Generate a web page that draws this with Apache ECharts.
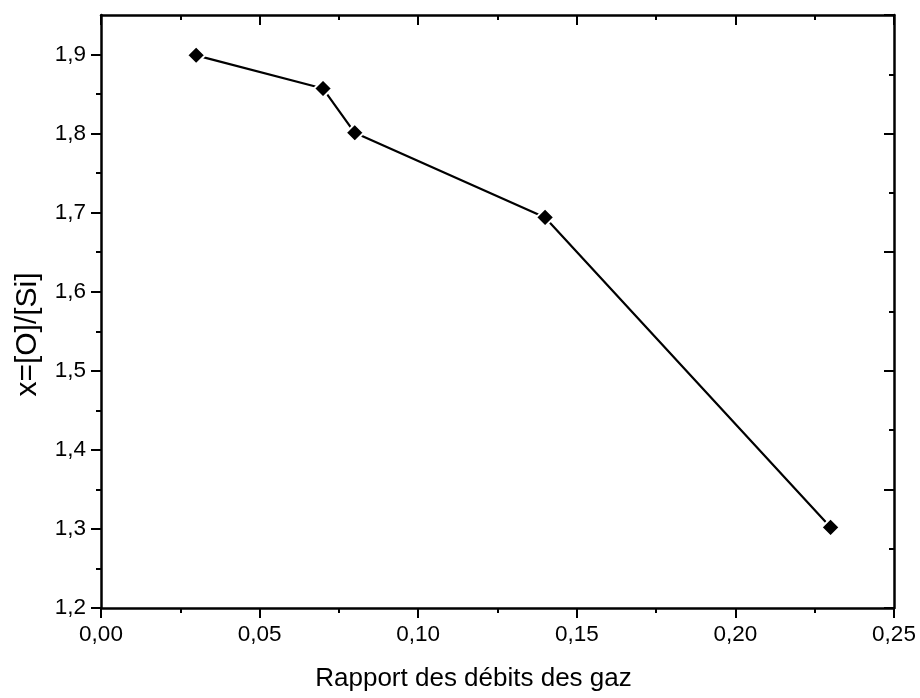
<!DOCTYPE html>
<html>
<head>
<meta charset="utf-8">
<script src="https://cdn.jsdelivr.net/npm/echarts@6/dist/echarts.min.js"></script>
<style>
  html, body { margin: 0; padding: 0; background: #fff; }
  #chart { width: 920px; height: 698px; }
</style>
</head>
<body>
<div id="chart"></div>
<script>
// Gas flow ratio vs. oxygen/silicon ratio
const flowRatio = [0.03, 0.07, 0.08, 0.14, 0.23];
const oxygenSiliconRatio = [1.899, 1.857, 1.801, 1.694, 1.302];

// Left axis ticks (labelled majors, unlabelled minors)
const yMajorTicks = [1.2, 1.3, 1.4, 1.5, 1.6, 1.7, 1.8, 1.9];
const yMinorTicks = [1.25, 1.35, 1.45, 1.55, 1.65, 1.75, 1.85];

const xTitle = 'Rapport des débits des gaz';
const yTitle = 'x=[O]/[Si]';

const FONT = '"Liberation Sans", Arial, sans-serif';
const INK = '#000';

function comma(v, digits) {
  return v.toFixed(digits).replace('.', ',');
}

const points = flowRatio.map((x, i) => [x, oxygenSiliconRatio[i]]);

const chart = echarts.init(document.getElementById('chart'), null, { renderer: 'canvas' });

const frameLine = { show: true, onZero: false, lineStyle: { color: INK, width: 2.5 } };
const tickStyle = { color: INK, width: 2 };

chart.setOption({
  animation: false,
  backgroundColor: '#fff',
  grid: { left: 101, right: 26, top: 15, bottom: 90, containLabel: false },
  xAxis: [
    {
      type: 'value', position: 'bottom', min: 0, max: 0.25, interval: 0.05,
      axisLine: frameLine,
      axisTick: { show: true, inside: false, length: 10, lineStyle: tickStyle },
      minorTick: { show: true, splitNumber: 2, length: 5, lineStyle: tickStyle },
      splitLine: { show: false },
      axisLabel: {
        margin: 15, color: INK, fontFamily: FONT, fontSize: 22.5,
        formatter: v => comma(v, 2)
      },
      name: xTitle, nameLocation: 'middle', nameGap: 58,
      nameTextStyle: { color: INK, fontFamily: FONT, fontSize: 26, padding: [0, 48, 0, 0] }
    },
    {
      type: 'value', position: 'top', min: 0, max: 0.25, interval: 0.05,
      axisLine: frameLine,
      axisTick: { show: true, inside: true, length: 10, lineStyle: tickStyle },
      minorTick: { show: true, splitNumber: 2, length: 5, lineStyle: tickStyle },
      splitLine: { show: false },
      axisLabel: { show: false }
    }
  ],
  yAxis: [
    {
      type: 'value', position: 'left', min: 1.2, max: 1.95,
      axisLine: frameLine,
      axisTick: { show: true, inside: false, length: 10, lineStyle: tickStyle, customValues: yMajorTicks },
      splitLine: { show: false },
      axisLabel: {
        margin: 15, color: INK, fontFamily: FONT, fontSize: 22.5,
        customValues: yMajorTicks,
        formatter: v => comma(v, 1)
      },
      name: yTitle, nameLocation: 'middle', nameGap: 58, nameRotate: 90,
      nameTextStyle: { color: INK, fontFamily: FONT, fontSize: 30, padding: [0, 46, 0, 0] }
    },
    {
      type: 'value', position: 'right', min: 1.2, max: 1.95, interval: 0.15,
      axisLine: frameLine,
      axisTick: { show: true, inside: true, length: 10, lineStyle: tickStyle },
      minorTick: { show: true, splitNumber: 2, length: 5, lineStyle: tickStyle },
      splitLine: { show: false },
      axisLabel: { show: false }
    },
    {
      type: 'value', position: 'left', min: 1.2, max: 1.95,
      axisLine: { show: false },
      axisTick: { show: true, inside: false, length: 5, lineStyle: tickStyle, customValues: yMinorTicks },
      splitLine: { show: false },
      axisLabel: { show: false }
    }
  ],
  series: [
    {
      type: 'line',
      xAxisIndex: 0, yAxisIndex: 0,
      data: points,
      symbol: 'diamond',
      symbolSize: 18,
      showAllSymbol: true,
      lineStyle: { color: INK, width: 2.2 },
      itemStyle: { color: INK, borderColor: '#fff', borderWidth: 2 },
      emphasis: { disabled: true }
    }
  ]
});
</script>
</body>
</html>
